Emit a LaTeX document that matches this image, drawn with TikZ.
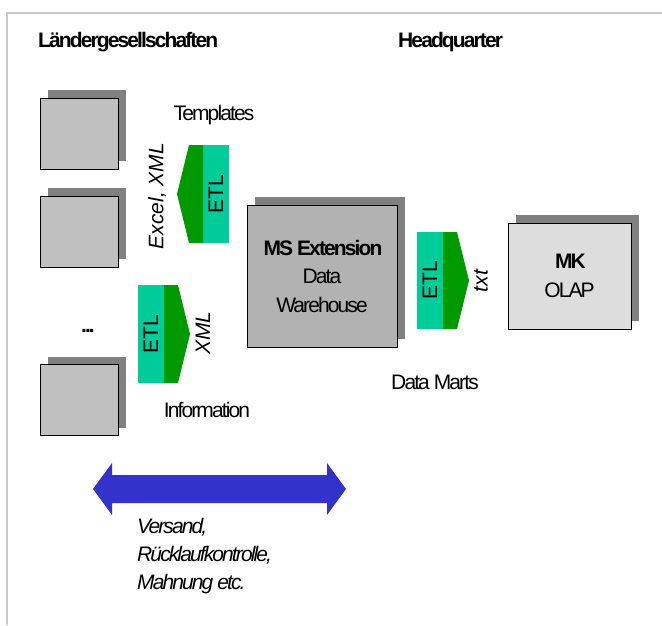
\documentclass[tikz,border=0pt]{standalone}
\usepackage{fontspec}
\setmainfont{Liberation Sans}
\newfontfamily\tightfont{Liberation Sans}[LetterSpace=-9]
\usetikzlibrary{shadows}
\definecolor{boxgray}{HTML}{C0C0C0}
\definecolor{dwgray}{HTML}{B2B2B2}
\definecolor{olapgray}{HTML}{DDDDDD}
\definecolor{shadowgray}{HTML}{808080}
\definecolor{etllight}{HTML}{00CC99}
\definecolor{etldark}{HTML}{009900}
\definecolor{arrowblue}{HTML}{3333CC}
\definecolor{framegray}{HTML}{C8C8C8}
\tikzset{
  srcbox/.style={draw, line width=0.8pt, fill=boxgray, minimum width=78pt, minimum height=71pt,
    outer sep=0pt, font=\tightfont\fontsize{21}{28.5}\selectfont,
    drop shadow={shadow xshift=8pt, shadow yshift=8pt, fill=shadowgray, opacity=1}},
  etlbox/.style={fill=etllight, minimum width=26pt, minimum height=98pt,
    inner sep=0pt, outer sep=0pt, font=\fontsize{21}{24}\selectfont},
  tight/.style={font=\tightfont\fontsize{21}{28}\selectfont, inner sep=0pt},
  vtext/.style={font=\itshape\fontsize{21}{24}\selectfont, rotate=90, inner sep=0pt},
}
\begin{document}
\begin{tikzpicture}[x=1pt,y=-1pt]
  \useasboundingbox (0,0) rectangle (662,625);
  \draw[framegray, line width=1.5pt] (7,625) -- (7,13) -- (662,13);
  % headings
  \node[tight, anchor=base west] (laender) at (38,47.5) {\textbf{Ländergesellschaften}};
  \node[tight, anchor=base west] (hq) at (398,47.5) {\textbf{Headquarter}};
  % Laender
  \node[srcbox] (land1) at (79,133.5) {};
  \node[srcbox] (land2) at (79,231.5) {};
  \node[tight, anchor=base] (dots) at (87,332) {\textbf{...}};
  \node[srcbox] (land3) at (79,400) {};
  % Headquarter
  \node[srcbox, fill=dwgray, minimum width=150pt, minimum height=142pt, align=center]
    (dw) at (322,276) {\textbf{MS Extension}\\Data\\Warehouse};
  \node[srcbox, fill=olapgray, minimum width=123pt, minimum height=106pt, align=center]
    (olap) at (569.5,276) {\textbf{MK}\\OLAP};
  % ETL
  \node[etlbox] (etlTpl) at (216,194) {\rotatebox{90}{ETL}};
  \fill[etldark] (etlTpl.north west) -- ++(-14,0) -- ([xshift=-26pt]etlTpl.west)
    -- ([xshift=-14pt]etlTpl.south west) -- (etlTpl.south west) -- cycle;
  \node[etlbox] (etlInfo) at (151,334) {\rotatebox{90}{ETL}};
  \fill[etldark] (etlInfo.north east) -- ++(14,0) -- ([xshift=26pt]etlInfo.east)
    -- ([xshift=14pt]etlInfo.south east) -- (etlInfo.south east) -- cycle;
  \node[etlbox, minimum height=97pt] (etlMart) at (430,280.5) {\rotatebox{90}{ETL}};
  \fill[etldark] (etlMart.north east) -- ++(14,0) -- ([xshift=26pt]etlMart.east)
    -- ([xshift=14pt]etlMart.south east) -- (etlMart.south east) -- cycle;
  % labels
  \node[tight] (tpl) at (214,115) {Templates};
  \node[vtext] (excel) at (157,196) {Excel, XML};
  \node[vtext] (xml) at (203,333) {XML};
  \node[tight] (info) at (207,410) {Information};
  \node[vtext] (txt) at (481,281) {txt};
  \node[tight] (marts) at (435,382) {Data Marts};
  % Versand
  \fill[arrowblue] (93,489) -- (112,463) -- (112,475) -- (327,475) -- (327,463) -- (346,489)
    -- (327,515) -- (327,503) -- (112,503) -- (112,515) -- cycle;
  \node[tight, anchor=north west, align=left, font=\tightfont\itshape\fontsize{21}{28}\selectfont]
    (tasks) at (137,518.5) {Versand,\\Rücklaufkontrolle,\\Mahnung etc.};
\end{tikzpicture}
\end{document}
